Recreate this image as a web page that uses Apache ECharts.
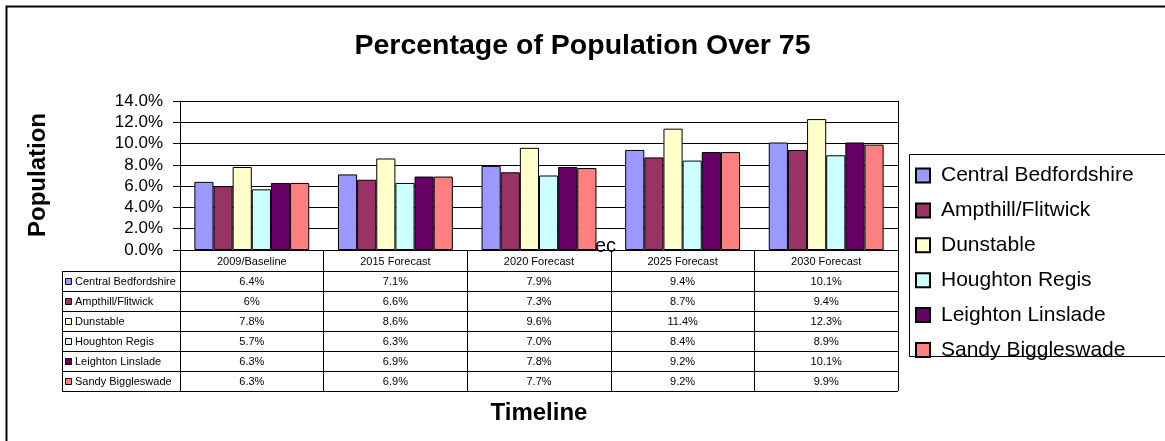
<!DOCTYPE html>
<html>
<head>
<meta charset="utf-8">
<script src="https://cdn.jsdelivr.net/npm/echarts@6/dist/echarts.min.js"></script>
<style>
html,body{margin:0;padding:0;background:#fff;}
#chart{width:1165px;height:441px;}
</style>
</head>
<body>
<div id="chart"></div>
<script>
// ---- data ----
const categories = ['2009/Baseline', '2015 Forecast', '2020 Forecast', '2025 Forecast', '2030 Forecast'];
const seriesNames = ['Central Bedfordshire', 'Ampthill/Flitwick', 'Dunstable', 'Houghton Regis', 'Leighton Linslade', 'Sandy Biggleswade'];
// values as printed in the data table (percent)
const centralBedfordshire = ['6.4%', '7.1%', '7.9%', '9.4%', '10.1%'];
const ampthillFlitwick    = ['6%',   '6.6%', '7.3%', '8.7%', '9.4%'];
const dunstable           = ['7.8%', '8.6%', '9.6%', '11.4%', '12.3%'];
const houghtonRegis       = ['5.7%', '6.3%', '7.0%', '8.4%', '8.9%'];
const leightonLinslade    = ['6.3%', '6.9%', '7.8%', '9.2%', '10.1%'];
const sandyBiggleswade    = ['6.3%', '6.9%', '7.7%', '9.2%', '9.9%'];
const yTickMin = 0, yTickMax = 14, yTickStep = 2;

const seriesTexts = [centralBedfordshire, ampthillFlitwick, dunstable, houghtonRegis, leightonLinslade, sandyBiggleswade];
const colors = ['#9999FF', '#993366', '#FFFFCC', '#CCFFFF', '#660066', '#FF8080'];

// ---- layout ----
const FONT = '"Liberation Sans", Arial, sans-serif';
const L = 180, R = 898, T = 101, B = 250;
const tableLeft = 62, tableTop = 271, rowH = 20;
const colW = (R - L) / categories.length;
const tableBottom = tableTop + rowH * seriesNames.length;

const chart = echarts.init(document.getElementById('chart'), null, {renderer: 'canvas'});

const graphics = [];
// outer border
graphics.push({type: 'rect', shape: {x: 6.5, y: 6.5, width: 1200, height: 500}, style: {fill: 'none', stroke: '#000', lineWidth: 2}, z: 0});
// legend box
graphics.push({type: 'rect', shape: {x: 909.5, y: 154.5, width: 400, height: 202}, style: {fill: 'none', stroke: '#000', lineWidth: 1}, z: 0});
// y-axis name
graphics.push({type: 'text', x: 38, y: 175, rotation: Math.PI / 2,
  style: {text: 'Population', font: 'bold 24px ' + FONT, fill: '#000', align: 'center', verticalAlign: 'middle'}});
// x-axis name
graphics.push({type: 'text', x: (L + R) / 2, y: 413,
  style: {text: 'Timeline', font: 'bold 24px ' + FONT, fill: '#000', align: 'center', verticalAlign: 'middle'}});
// stray text
graphics.push({type: 'text', x: 595, y: 246,
  style: {text: 'ec', font: '20px ' + FONT, fill: '#000', align: 'left', verticalAlign: 'middle'}});
// table horizontal lines
for (let i = 0; i <= seriesNames.length; i++) {
  const y = tableTop + i * rowH + 0.5;
  graphics.push({type: 'line', shape: {x1: tableLeft, y1: y, x2: R, y2: y}, style: {stroke: '#000', lineWidth: 1}});
}
graphics.push({type: 'line', shape: {x1: tableLeft + 0.5, y1: tableTop, x2: tableLeft + 0.5, y2: tableBottom}, style: {stroke: '#000', lineWidth: 1}});
// table rows
seriesNames.forEach((name, i) => {
  const cy = tableTop + i * rowH + rowH / 2;
  graphics.push({type: 'rect', shape: {x: 65.5, y: Math.round(cy - 3) + 0.5, width: 6, height: 6},
    style: {fill: colors[i], stroke: '#000', lineWidth: 1}});
  graphics.push({type: 'text', x: 75, y: cy + 1,
    style: {text: name, font: '11px ' + FONT, fill: '#000', align: 'left', verticalAlign: 'middle'}});
  seriesTexts[i].forEach((t, j) => {
    graphics.push({type: 'text', x: L + (j + 0.5) * colW, y: cy + 1,
      style: {text: t, font: '11px ' + FONT, fill: '#000', align: 'center', verticalAlign: 'middle'}});
  });
});

const option = {
  animation: false,
  backgroundColor: '#fff',
  color: colors,
  title: {
    text: 'Percentage of Population Over 75',
    left: 'center', top: 27,
    textStyle: {fontFamily: FONT, fontWeight: 'bold', fontSize: 28.5, color: '#000'}
  },
  legend: {
    orient: 'vertical', left: 910, top: 160,
    itemWidth: 14, itemHeight: 14, itemGap: 13.9,
    icon: 'rect',
    textStyle: {fontFamily: FONT, fontSize: 21, lineHeight: 20, color: '#000', padding: [0, 0, 0, 6]},
    data: seriesNames
  },
  grid: {left: L, top: T, width: R - L, height: B - T, containLabel: false},
  xAxis: {
    type: 'category', data: categories,
    axisLine: {lineStyle: {color: '#000', width: 1}},
    axisTick: {show: true, alignWithLabel: false, interval: 0, length: tableBottom - B, lineStyle: {color: '#000'}},
    axisLabel: {fontFamily: FONT, fontSize: 11, color: '#000', margin: 6, interval: 0},
    splitLine: {show: false}
  },
  yAxis: [{
    type: 'value', min: yTickMin, max: yTickMax, interval: yTickStep,
    axisLine: {show: true, lineStyle: {color: '#000'}},
    axisTick: {show: true, length: 7, lineStyle: {color: '#000'}},
    axisLabel: {fontFamily: FONT, fontSize: 17, color: '#000', margin: 17,
      formatter: v => v.toFixed(1) + '%'},
    splitLine: {show: true, lineStyle: {color: '#000', width: 1}}
  }, {
    type: 'value', min: yTickMin, max: yTickMax, interval: yTickStep, position: 'right',
    axisLine: {show: true, lineStyle: {color: '#000'}},
    axisTick: {show: false}, axisLabel: {show: false}, splitLine: {show: false}
  }],
  series: seriesNames.map((name, i) => ({
    name: name, type: 'bar', yAxisIndex: 0,
    barGap: 0, barCategoryGap: '20%',
    itemStyle: {color: colors[i], borderColor: '#000', borderWidth: 1},
    data: seriesTexts[i].map(s => parseFloat(s))
  })),
  graphic: graphics
};
chart.setOption(option);
</script>
</body>
</html>
